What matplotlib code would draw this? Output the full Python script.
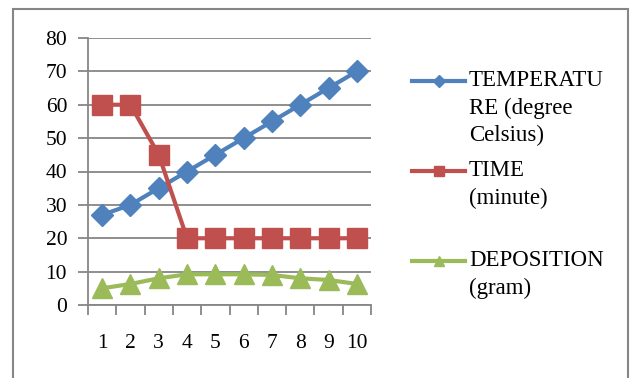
import matplotlib
matplotlib.use("Agg")
import matplotlib.pyplot as plt
from matplotlib.lines import Line2D
from matplotlib.patches import Rectangle

categories = [1, 2, 3, 4, 5, 6, 7, 8, 9, 10]
temperature = [27, 30, 35, 40, 45, 50, 55, 60, 65, 70]
time_min = [60, 60, 45, 20, 20, 20, 20, 20, 20, 20]
deposition = [5, 6.3, 8, 9.2, 9.2, 9.2, 9, 8, 7.5, 6.3]
y_ticks = [0, 10, 20, 30, 40, 50, 60, 70, 80]
labels = [["TEMPERATU", "RE (degree", "Celsius)"], ["TIME", "(minute)"], ["DEPOSITION", "(gram)"]]

W, H = 630, 378
plt.rcParams['font.family'] = ['Liberation Serif', 'DejaVu Serif']
fig = plt.figure(figsize=(W / 100, H / 100), dpi=100)

def fx(px):
    return px / W

def fy(py):
    return 1 - py / H

grid_c = "#868686"
blue, red, green = "#4F81BD", "#C0504D", "#9BBB59"

# outer border
fig.add_artist(Rectangle((fx(13), fy(420)), fx(628) - fx(13), fy(9) - fy(420),
                         transform=fig.transFigure, fill=False, edgecolor=grid_c, lw=1.5))

ax = fig.add_axes([fx(88), fy(305), fx(371) - fx(88), fy(38) - fy(305)])
ax.set_xlim(0.5, 10.5)
ax.set_ylim(0, 80)
ax.set_yticks(y_ticks)
ax.yaxis.grid(True, color=grid_c, lw=1.3)
ax.set_axisbelow(True)
for s in ["top", "right"]:
    ax.spines[s].set_visible(False)
for s in ["left", "bottom"]:
    ax.spines[s].set_color(grid_c)
    ax.spines[s].set_linewidth(1.3)

ax.set_xticks([c - 0.5 for c in categories] + [10.5])
ax.set_xticklabels([])
ax.set_xticks(categories, minor=True)
ax.set_xticklabels([str(c) for c in categories], minor=True, fontsize=15.5)
ax.tick_params(axis='x', which='major', direction='out', length=7, color=grid_c, width=1.3)
ax.tick_params(axis='x', which='minor', length=0, pad=21)
ax.tick_params(axis='y', direction='out', length=7, color=grid_c, width=1.3, pad=8, labelsize=15.5)

ax.plot(categories, temperature, color=blue, lw=3, marker='D', ms=11.5, zorder=3, clip_on=False)
ax.plot(categories, time_min, color=red, lw=3, marker='s', ms=14, zorder=4, clip_on=False)
ax.plot(categories, deposition, color=green, lw=3, marker='^', ms=14, zorder=5, clip_on=False)

# legend drawn manually
entries = [(blue, 'D', 6.5, 81), (red, 's', 7, 171), (green, '^', 7, 261)]
for (col, mk, ms, ypix), lab in zip(entries, labels):
    fig.add_artist(Line2D([fx(412), fx(465)], [fy(ypix), fy(ypix)], transform=fig.transFigure,
                          color=col, lw=3))
    fig.add_artist(Line2D([fx(438.5)], [fy(ypix)], transform=fig.transFigure,
                          color=col, marker=mk, ms=ms, lw=0))
    for i, line in enumerate(lab):
        fig.text(fx(469), fy(ypix + 27 * i), line, fontsize=16.5, va='center', ha='left')

fig.savefig("out.png", dpi=100)
